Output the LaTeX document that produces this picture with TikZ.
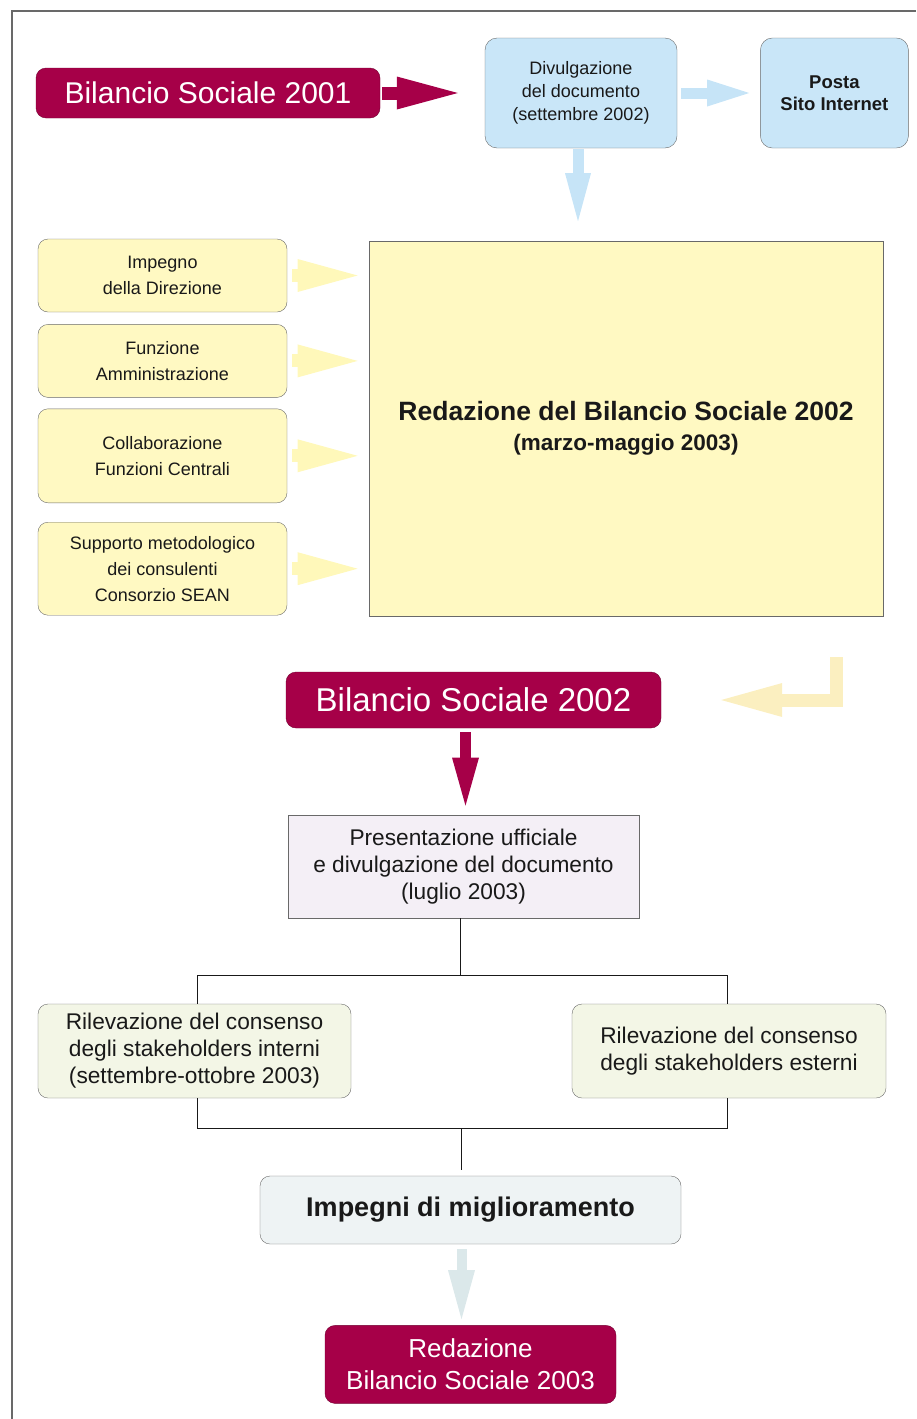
\documentclass[tikz,border=0pt]{standalone}
\usepackage{fontspec}
\setmainfont{Liberation Sans}
\usetikzlibrary{arrows.meta,positioning,calc}
\definecolor{bscrimson}{RGB}{166,0,72}
\definecolor{skyfill}{RGB}{201,230,248}
\definecolor{skyarrow}{RGB}{198,228,247}
\definecolor{lemonfill}{RGB}{255,249,194}
\definecolor{lemonarrow}{RGB}{255,248,186}
\definecolor{returnarrow}{RGB}{251,239,192}
\definecolor{lilacfill}{RGB}{244,239,246}
\definecolor{sagefill}{RGB}{243,246,230}
\definecolor{frostfill}{RGB}{238,243,244}
\definecolor{frostarrow}{RGB}{219,232,234}
\definecolor{edgegray}{RGB}{105,105,105}
\definecolor{inkblack}{RGB}{25,25,25}
\newcommand{\fs}[2]{\fontsize{#1}{#2}\selectfont}

\begin{document}
\begin{tikzpicture}[x=1pt, y=-1pt,
    redbox/.style={fill=bscrimson, draw=bscrimson!70!black, rounded corners=10pt, text=white,
                   align=center, inner sep=0pt},
    skybox/.style={fill=skyfill, draw=edgegray, rounded corners=12pt, text=inkblack,
                   align=center, inner sep=0pt, minimum height=110pt},
    lemonbox/.style={fill=lemonfill, draw=edgegray, rounded corners=10pt, text=inkblack,
                   align=center, inner sep=0pt, minimum width=249pt, font=\fs{18}{26}},
    sagebox/.style={fill=sagefill, draw=edgegray, rounded corners=10pt, text=inkblack,
                   align=center, inner sep=0pt, minimum height=94pt, font=\fs{22.7}{27}},
    link/.style={draw=inkblack, line width=1pt},
    fatarrow/.style n args={4}{draw=#1, line width=#2, line join=miter,
                   -{Triangle[length=#3, width=#4, line width=0pt]}}
  ]
  \useasboundingbox (0,0) rectangle (916,1419);
  % --- frame ---
  \draw[edgegray, line width=1.5pt] (12,1419) -- (12,11) -- (916,11);

  % --- top row ---
  \node[redbox, minimum width=344pt, minimum height=50pt, font=\fs{30}{36}]
        (bs2001) at (208,93) {Bilancio Sociale 2001};
  \node[skybox, minimum width=192pt, font=\fs{18}{23}]
        (divulg) at (581,93) {Divulgazione\\del documento\\(settembre 2002)};
  \node[skybox, minimum width=148pt, font=\fs{18.5}{22}\bfseries, right=83pt of divulg]
        (posta) {Posta\\Sito Internet};

  \draw[fatarrow={bscrimson}{13pt}{61pt}{33pt}] ([xshift=2pt]bs2001.east) -- ([xshift=-27pt]divulg.west |- bs2001.east);
  \draw[fatarrow={skyarrow}{11pt}{42pt}{27pt}] ([xshift=4pt]divulg.east) -- ([xshift=-11pt]posta.west);

  % --- inputs to the drafting box ---
  \node[lemonbox, minimum height=73pt] (impegno) at (162.5,275.5) {Impegno\\della Direzione};
  \node[lemonbox, minimum height=73pt, below=12pt of impegno] (funzione) {Funzione\\Amministrazione};
  \node[lemonbox, minimum height=94pt, below=11pt of funzione] (collab) {Collaborazione\\Funzioni Centrali};
  \node[lemonbox, minimum height=93pt, below=19pt of collab] (supporto) {Supporto metodologico\\dei consulenti\\Consorzio SEAN};

  \node[fill=lemonfill, draw=edgegray, line width=0.8pt, minimum width=514pt, minimum height=375pt,
        inner sep=0pt, align=center, text=inkblack, font=\fs{26.5}{30}\bfseries]
        (redaz) at (626,428.5)
        {Redazione del Bilancio Sociale 2002\\{\fs{22.5}{30}(marzo-maggio 2003)}};

  \draw[fatarrow={skyarrow}{11pt}{48pt}{26pt}] ($(divulg.south)+(-3,1)$) -- ($(divulg.south)+(-3,73)$);
  \draw[fatarrow={lemonarrow}{13pt}{60pt}{33pt}] ([xshift=5pt]impegno.east) -- ([xshift=-11pt]redaz.west |- impegno.east);
  \draw[fatarrow={lemonarrow}{13pt}{60pt}{33pt}] ([xshift=5pt]funzione.east) -- ([xshift=-11pt]redaz.west |- funzione.east);
  \draw[fatarrow={lemonarrow}{13pt}{60pt}{33pt}] ([xshift=5pt]collab.east) -- ([xshift=-11pt]redaz.west |- collab.east);
  \draw[fatarrow={lemonarrow}{13pt}{60pt}{33pt}] ([xshift=5pt]supporto.east) -- ([xshift=-11pt]redaz.west |- supporto.east);

  % --- output and presentation ---
  \node[redbox, minimum width=375pt, minimum height=56pt, font=\fs{33}{38}]
        (bs2002) at (473.5,700) {Bilancio Sociale 2002};
  \node[fill=lilacfill, draw=edgegray, line width=0.8pt, minimum width=351pt, minimum height=103pt,
        inner sep=0pt, align=center, text=inkblack, font=\fs{22.7}{27}]
        (present) at (463.5,866.5) {Presentazione ufficiale\\e divulgazione del documento\\(luglio 2003)};

  \draw[fatarrow={returnarrow}{13pt}{61pt}{34pt}] ($(redaz.south east)+(-47,41)$) |- ([xshift=60pt]bs2002.east);
  \draw[fatarrow={bscrimson}{11pt}{48pt}{27pt}] ($(present.north |- bs2002.south)+(2,4)$) -- ($(present.north)+(2,-9)$);

  % --- stakeholder surveys ---
  \node[sagebox, minimum width=313pt] (rilint) at (194.5,1051)
        {Rilevazione del consenso\\degli stakeholders interni\\(settembre-ottobre 2003)};
  \node[sagebox, minimum width=314pt] (rilest) at (729,1051)
        {Rilevazione del consenso\\degli stakeholders esterni};

  \coordinate (fork) at (460,975);
  \coordinate (merge) at (461,1128);
  \draw[link] (present.south -| fork) -- (fork);
  \draw[link] ($(rilint.north)+(2.5,0)$) |- (fork) -| ($(rilest.north)+(-2,0)$);
  \draw[link] ($(rilint.south)+(2.5,0)$) |- (merge) -| ($(rilest.south)+(-2,0)$);

  % --- improvement and next edition ---
  \node[fill=frostfill, draw=edgegray, rounded corners=10pt, minimum width=421pt, minimum height=68pt,
        inner sep=0pt, text=inkblack, font=\fs{27}{32}\bfseries]
        (miglior) at (470.5,1210) {\raisebox{-3pt}{Impegni di miglioramento}};
  \node[redbox, minimum width=291pt, minimum height=78pt, font=\fs{26}{32}, below=81pt of miglior]
        (bs2003) {Redazione\\Bilancio Sociale 2003};

  \draw[link] (merge) -- ($(merge)+(0,42)$);
  \draw[fatarrow={frostarrow}{10pt}{49pt}{27pt}] ($(miglior.south)+(-9,5)$) -- ($(bs2003.north)+(-9,-6)$);
\end{tikzpicture}
\end{document}
